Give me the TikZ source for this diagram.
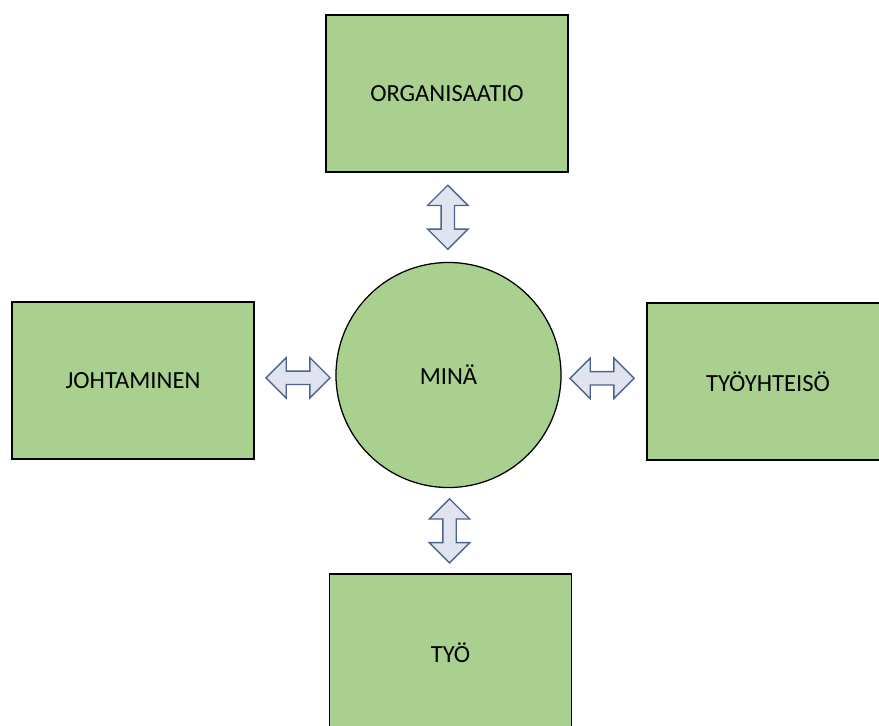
\documentclass[tikz,border=0pt]{standalone}
\usepackage{fontspec}
\setmainfont{Carlito}
\usepackage{xcolor}
\definecolor{box-green}{HTML}{A9D08E}
\definecolor{arrow-fill}{HTML}{E1E4EE}
\definecolor{arrow-line}{HTML}{4A6491}
\usetikzlibrary{shapes.arrows, calc}

\tikzset{
    area/.style={draw=black, line width=0.9pt, fill=box-green, minimum width=6.05cm, minimum height=3.925cm, font=\fontsize{17.5}{20}\selectfont},
    self/.style={circle, draw=black, line width=0.9pt, fill=box-green, minimum size=5.625cm, font=\fontsize{17.5}{20}\selectfont},
    link/.style={double arrow, draw=arrow-line, fill=arrow-fill, line width=1pt, inner xsep=0pt, inner ysep=0.15cm, minimum height=1.6cm, double arrow head extend=0.3375cm}
}

\begin{document}
\begin{tikzpicture}[x=0.025cm, y=-0.025cm]

    % Frame
    \useasboundingbox (0, 0) rectangle (879, 725);
    \clip (0, 0) rectangle (879, 725);

    % Centre
    \node[self] (mina) at (448.5, 375) {MINÄ};

    % Areas round it
    \node[area] (organisaatio) at (447, 93.5) {ORGANISAATIO};
    \node[area] (johtaminen) at (133, 380.5) {JOHTAMINEN};
    \node[area] (tyoyhteiso) at (768, 381.5) {TYÖYHTEISÖ};
    \node[area] (tyo) at (450.5, 652.5) {TYÖ};

    % Two-way links
    \node[link, rotate=90] (link-up) at ($(organisaatio.south)!0.5!(mina.north)$) {};
    \node[link, rotate=90] (link-down) at ($(mina.south)!0.5!(tyo.north)$) {};
    \node[link] (link-left) at ($(johtaminen.east)!0.5!(mina.west) + (3, 0)$) {};
    \node[link] (link-right) at ($(mina.east)!0.5!(tyoyhteiso.west) + (-2, 0)$) {};

\end{tikzpicture}
\end{document}
